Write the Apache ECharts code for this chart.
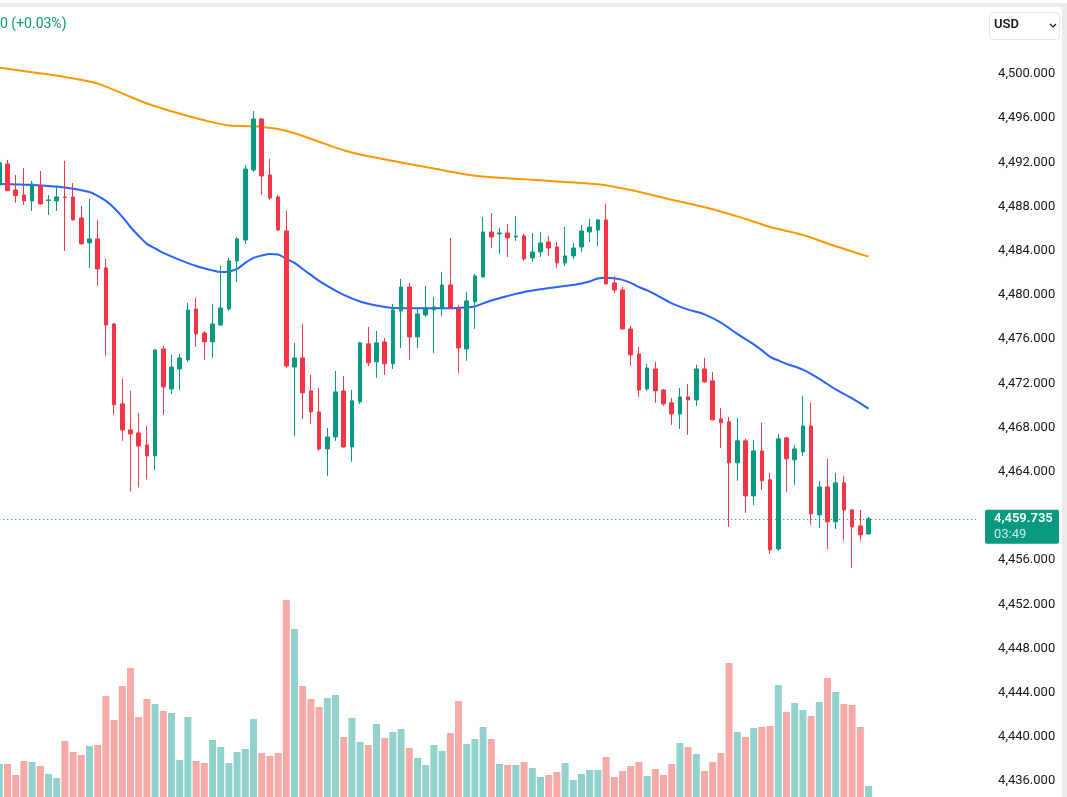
<!DOCTYPE html>
<html>
<head>
<meta charset="utf-8">
<script src="https://cdn.jsdelivr.net/npm/echarts@6/dist/echarts.min.js"></script>
<style>
  html, body { margin: 0; padding: 0; background: #fff; }
  #echart { width: 1067px; height: 797px; }
</style>
</head>
<body>
<div id="echart"></div>
<script>
// K线数据 (开 / 收 / 低 / 高)
const opens = [4489.95, 4491.86, 4489.50, 4489.05, 4488.51, 4489.89, 4488.55, 4488.51, 4488.87, 4488.87,
  4486.97, 4484.71, 4485.07, 4482.44, 4477.37, 4470.14, 4467.78, 4467.51, 4466.42, 4465.43,
  4475.11, 4471.49, 4473.30, 4474.12, 4478.73, 4476.56, 4475.75, 4477.28, 4478.73, 4483.08,
  4484.98, 4491.31, 4495.93, 4490.86, 4488.87, 4485.79, 4473.48, 4474.30, 4471.31, 4469.41,
  4466.06, 4467.15, 4471.31, 4466.24, 4470.32, 4475.57, 4473.94, 4475.75, 4473.76, 4478.55,
  4480.72, 4476.20, 4478.19, 4478.64, 4478.82, 4480.90, 4478.73, 4475.11, 4479.37, 4481.63,
  4485.70, 4485.52, 4485.61, 4485.25, 4485.34, 4483.35, 4483.89, 4484.80, 4484.34, 4482.90,
  4483.53, 4484.34, 4485.70, 4485.88, 4486.79, 4481.09, 4480.45, 4476.92, 4474.66, 4471.49,
  4473.30, 4471.40, 4470.23, 4469.23, 4470.77, 4470.50, 4473.30, 4472.22, 4468.78, 4468.51,
  4464.80, 4466.79, 4461.81, 4465.88, 4463.26, 4457.01, 4467.06, 4465.07, 4465.79, 4468.14,
  4460.09, 4462.62, 4459.46, 4462.99, 4460.54, 4459.09, 4458.37]
const closes = [4491.97, 4489.44, 4488.99, 4488.51, 4490.05, 4488.24, 4488.60, 4488.87, 4488.81, 4486.79,
  4484.62, 4485.07, 4482.35, 4477.28, 4470.05, 4467.78, 4467.42, 4466.33, 4465.43, 4475.02,
  4471.67, 4473.48, 4474.30, 4478.64, 4476.47, 4475.75, 4477.37, 4478.82, 4483.08, 4485.07,
  4491.40, 4495.93, 4490.77, 4488.78, 4485.88, 4473.57, 4474.30, 4471.13, 4469.41, 4466.06,
  4467.15, 4471.22, 4466.24, 4470.41, 4475.66, 4473.85, 4475.66, 4473.76, 4478.64, 4480.72,
  4476.20, 4478.28, 4478.82, 4478.91, 4480.90, 4478.82, 4475.20, 4479.46, 4481.72, 4485.70,
  4485.25, 4485.61, 4485.16, 4485.34, 4483.26, 4483.89, 4484.71, 4484.25, 4482.90, 4483.53,
  4484.25, 4485.79, 4486.15, 4486.79, 4481.00, 4480.45, 4476.92, 4474.57, 4471.40, 4473.39,
  4471.31, 4470.14, 4469.23, 4470.77, 4470.50, 4473.30, 4472.13, 4468.69, 4468.42, 4464.80,
  4466.79, 4461.81, 4465.88, 4463.17, 4456.92, 4466.97, 4465.16, 4466.06, 4468.14, 4460.18,
  4462.62, 4459.46, 4462.99, 4460.54, 4459.00, 4458.28, 4459.735]
const lows = [4489.80, 4489.41, 4488.35, 4488.15, 4487.60, 4488.19, 4487.24, 4487.60, 4483.98, 4486.74,
  4484.57, 4482.44, 4480.81, 4474.48, 4469.14, 4466.79, 4462.20, 4462.56, 4463.29, 4464.16,
  4469.14, 4471.04, 4471.40, 4473.94, 4475.29, 4474.12, 4474.30, 4477.19, 4478.55, 4481.17,
  4484.62, 4491.13, 4489.05, 4488.60, 4485.79, 4473.39, 4467.24, 4468.78, 4468.33, 4465.88,
  4463.62, 4466.79, 4466.20, 4464.89, 4470.14, 4473.57, 4472.49, 4472.76, 4473.30, 4475.20,
  4474.12, 4475.20, 4478.01, 4474.75, 4478.10, 4478.78, 4472.94, 4474.03, 4476.92, 4481.58,
  4484.25, 4483.71, 4483.44, 4484.89, 4483.08, 4482.99, 4483.44, 4483.53, 4482.44, 4482.62,
  4483.26, 4483.89, 4484.80, 4484.44, 4480.95, 4480.18, 4476.88, 4473.57, 4470.77, 4471.31,
  4470.23, 4469.96, 4468.24, 4467.87, 4467.33, 4469.96, 4472.04, 4468.64, 4466.15, 4459.00,
  4463.17, 4460.27, 4460.99, 4462.35, 4456.56, 4456.83, 4462.17, 4462.81, 4465.43, 4459.19,
  4458.91, 4457.01, 4458.82, 4457.74, 4455.29, 4457.74, 4458.33]
const highs = [4492.20, 4492.22, 4490.86, 4491.49, 4490.32, 4491.22, 4489.05, 4489.77, 4492.13, 4490.13,
  4488.05, 4488.69, 4486.79, 4483.26, 4477.47, 4472.40, 4471.31, 4469.32, 4468.14, 4475.11,
  4475.38, 4474.57, 4474.66, 4479.28, 4479.73, 4476.74, 4479.19, 4482.62, 4483.35, 4485.25,
  4491.76, 4496.65, 4495.97, 4492.31, 4489.05, 4487.60, 4475.66, 4477.37, 4472.76, 4471.58,
  4467.96, 4473.12, 4472.67, 4471.40, 4475.75, 4477.10, 4476.74, 4476.11, 4479.19, 4481.45,
  4481.09, 4478.73, 4480.81, 4479.82, 4482.08, 4485.16, 4479.10, 4480.27, 4481.90, 4487.06,
  4487.42, 4486.06, 4486.42, 4487.15, 4485.52, 4485.61, 4485.70, 4485.34, 4484.80, 4486.15,
  4484.71, 4486.33, 4486.88, 4486.88, 4488.24, 4481.72, 4480.72, 4477.19, 4475.29, 4473.76,
  4473.94, 4471.49, 4470.68, 4471.58, 4471.95, 4473.67, 4474.30, 4473.03, 4469.77, 4468.96,
  4468.87, 4466.97, 4466.88, 4468.42, 4463.89, 4467.42, 4467.15, 4466.42, 4470.86, 4470.23,
  4463.17, 4465.16, 4463.89, 4463.62, 4460.63, 4460.54, 4459.91]
// 成交量
const volumes = [33, 33, 22, 36, 35, 31, 23, 19, 56, 45, 42, 51, 52, 101, 77, 111, 129, 80, 98, 93,
  86, 84, 37, 80, 36, 34, 57, 50, 34, 45, 48, 78, 44, 41, 44, 197, 168, 111, 98, 90,
  99, 102, 60, 79, 55, 52, 73, 59, 65, 68, 49, 39, 32, 52, 46, 64, 96, 53, 58, 70,
  58, 33, 32, 32, 35, 29, 20, 22, 25, 34, 17, 23, 27, 27, 40, 20, 26, 31, 35, 21,
  28, 22, 33, 54, 50, 43, 26, 35, 44, 134, 65, 60, 69, 70, 71, 112, 85, 94, 87, 81,
  95, 119, 105, 93, 92, 70, 11]
// 均线 [K线序号, 价格]
const maBlue = [[0, 4490.05], [4, 4489.96], [8, 4489.73], [11, 4489.32], [12, 4488.96], [13, 4488.51],
  [14, 4487.87], [15, 4487.06], [16, 4486.15], [17, 4485.34], [18, 4484.62], [19, 4484.21],
  [20, 4483.80], [22, 4483.17], [24, 4482.62], [26, 4482.22], [27, 4482.08], [28, 4482.13],
  [29, 4482.35], [30, 4482.90], [31, 4483.35], [32, 4483.57], [33, 4483.71], [34, 4483.66],
  [35, 4483.26], [36, 4482.90], [37, 4482.35], [38, 4481.81], [39, 4481.27], [40, 4480.81],
  [42, 4480.00], [44, 4479.41], [46, 4479.05], [48, 4478.82], [52, 4478.80], [55, 4478.80],
  [57, 4478.87], [58, 4478.96], [59, 4479.23], [60, 4479.50], [62, 4479.91], [64, 4480.27],
  [66, 4480.52], [69, 4480.81], [71, 4481.04], [72, 4481.22], [73, 4481.49], [74, 4481.56],
  [75, 4481.51], [76, 4481.36], [77, 4481.09], [78, 4480.72], [79, 4480.41], [80, 4480.05],
  [82, 4479.23], [84, 4478.67], [86, 4478.24], [88, 4477.49], [90, 4476.47], [92, 4475.52],
  [93, 4474.98], [94, 4474.39], [95, 4474.07], [96, 4473.76], [98, 4473.24], [100, 4472.40],
  [102, 4471.45], [104, 4470.63], [106, 4469.71]]
const maOrange = [[0, 4500.58], [4, 4500.16], [8, 4499.73], [12, 4499.13], [15, 4498.24], [18, 4497.33],
  [21, 4496.63], [25, 4495.81], [28, 4495.34], [31, 4495.27], [34, 4495.02], [36, 4494.63],
  [39, 4493.87], [42, 4493.10], [45, 4492.55], [49, 4491.99], [53, 4491.44], [58, 4490.79],
  [65, 4490.42], [73, 4490.01], [77, 4489.49], [82, 4488.62], [87, 4487.76], [91, 4486.88],
  [94, 4486.15], [98, 4485.43], [102, 4484.41], [106, 4483.47]]
// 价格刻度
const priceMin = 4432
const priceMax = 4508
const priceStep = 4
const lastPrice = 4459.735
const lastTime = '03:49'
const changeText = '0 (+0.03%)'
const slotCount = 120 // 右侧留白也算进去

const upColor = '#089981'
const downColor = '#F23645'

const categories = []
for (let i = 0; i < slotCount; i++) categories.push(String(i))

const candleData = opens.map((o, i) => [o, closes[i], lows[i], highs[i]])
const volumeData = volumes.map((v, i) => ({
  value: v,
  itemStyle: { color: closes[i] >= opens[i] ? '#92d2cc' : '#f7a9a7' }
}))

const fmt = v => v.toLocaleString('en-US', { minimumFractionDigits: 3, maximumFractionDigits: 3 })

const myChart = echarts.init(document.getElementById('echart'))

const option = {
  animation: false,
  textStyle: { fontFamily: 'Roboto, sans-serif' },
  // outerBoundsMode 关掉，不然 v6 会把网格往里缩
  grid: [
    { left: -4.8, top: -14.4, width: 984, height: 839.6, outerBoundsMode: 'none', containLabel: false },
    { left: -4.8, top: 597, width: 984, height: 200, outerBoundsMode: 'none', containLabel: false }
  ],
  xAxis: [
    { type: 'category', data: categories, gridIndex: 0, show: false, boundaryGap: true },
    { type: 'category', data: categories, gridIndex: 1, show: false, boundaryGap: true }
  ],
  yAxis: [
    {
      type: 'value',
      gridIndex: 0,
      position: 'right',
      min: priceMin,
      max: priceMax,
      interval: priceStep,
      axisLine: { show: false },
      axisTick: { show: false },
      splitLine: { show: false },
      axisLabel: {
        align: 'right',
        margin: 76,
        color: '#131722',
        fontSize: 13,
        formatter: fmt
      }
    },
    { type: 'value', gridIndex: 1, min: 0, max: 200, show: false }
  ],
  series: [
    {
      name: 'vol',
      type: 'bar',
      xAxisIndex: 1,
      yAxisIndex: 1,
      barWidth: 7,
      data: volumeData,
      z: 1
    },
    {
      name: 'maOrange',
      type: 'line',
      data: maOrange,
      smooth: 0.3,
      showSymbol: false,
      lineStyle: { color: '#FF9800', width: 2 },
      z: 2
    },
    {
      name: 'maBlue',
      type: 'line',
      data: maBlue,
      smooth: 0.3,
      showSymbol: false,
      lineStyle: { color: '#2962FF', width: 2 },
      z: 2
    },
    {
      name: 'k',
      type: 'candlestick',
      data: candleData,
      barWidth: 4,
      itemStyle: {
        color: upColor,
        color0: downColor,
        borderColor: upColor,
        borderColor0: downColor,
        borderWidth: 1
      },
      markLine: {
        silent: true,
        symbol: 'none',
        label: { show: false },
        lineStyle: { color: upColor, type: [1, 3], width: 1 },
        data: [{ yAxis: lastPrice }]
      },
      z: 3
    }
  ]
}
myChart.setOption(option)

// 最新价标签、顶部文字、USD 按钮
const py = myChart.convertToPixel({ yAxisIndex: 0 }, lastPrice)
myChart.setOption({
  graphic: [
    { type: 'rect', shape: { x: 0, y: 0, width: 1067, height: 3 }, style: { fill: '#fff' }, z: 20 },
    { type: 'rect', shape: { x: 0, y: 3, width: 1067, height: 4 }, style: { fill: '#ebebeb' }, z: 20 },
    { type: 'rect', shape: { x: 1062, y: 3, width: 5, height: 794 }, style: { fill: '#ebebeb' }, z: 20 },
    {
      type: 'text', left: 0, top: 17, z: 20,
      style: { text: changeText, fill: upColor, font: '14px Roboto, sans-serif' }
    },
    {
      type: 'rect', shape: { x: 989.5, y: 12.5, width: 70, height: 27, r: 4 },
      style: { fill: '#fff', stroke: '#e0e3eb', lineWidth: 1 }, z: 20
    },
    {
      type: 'text', left: 994, top: 18, z: 21,
      style: { text: 'USD', fill: '#131722', font: '600 13px Roboto, sans-serif' }
    },
    {
      type: 'polyline', shape: { points: [[1050, 24], [1053, 27], [1056, 24]] },
      style: { stroke: '#131722', lineWidth: 1.2, fill: null }, z: 21
    },
    {
      type: 'rect', shape: { x: 985, y: py - 9, width: 74, height: 34, r: 2 },
      style: { fill: upColor }, z: 20
    },
    {
      type: 'text', left: 994, top: py - 7, z: 21,
      style: { text: fmt(lastPrice), fill: '#fff', font: '600 13px Roboto, sans-serif' }
    },
    {
      type: 'text', left: 994, top: py + 9, z: 21,
      style: { text: lastTime, fill: 'rgba(255,255,255,0.8)', font: '13px Roboto, sans-serif' }
    }
  ]
})
</script>
</body>
</html>
